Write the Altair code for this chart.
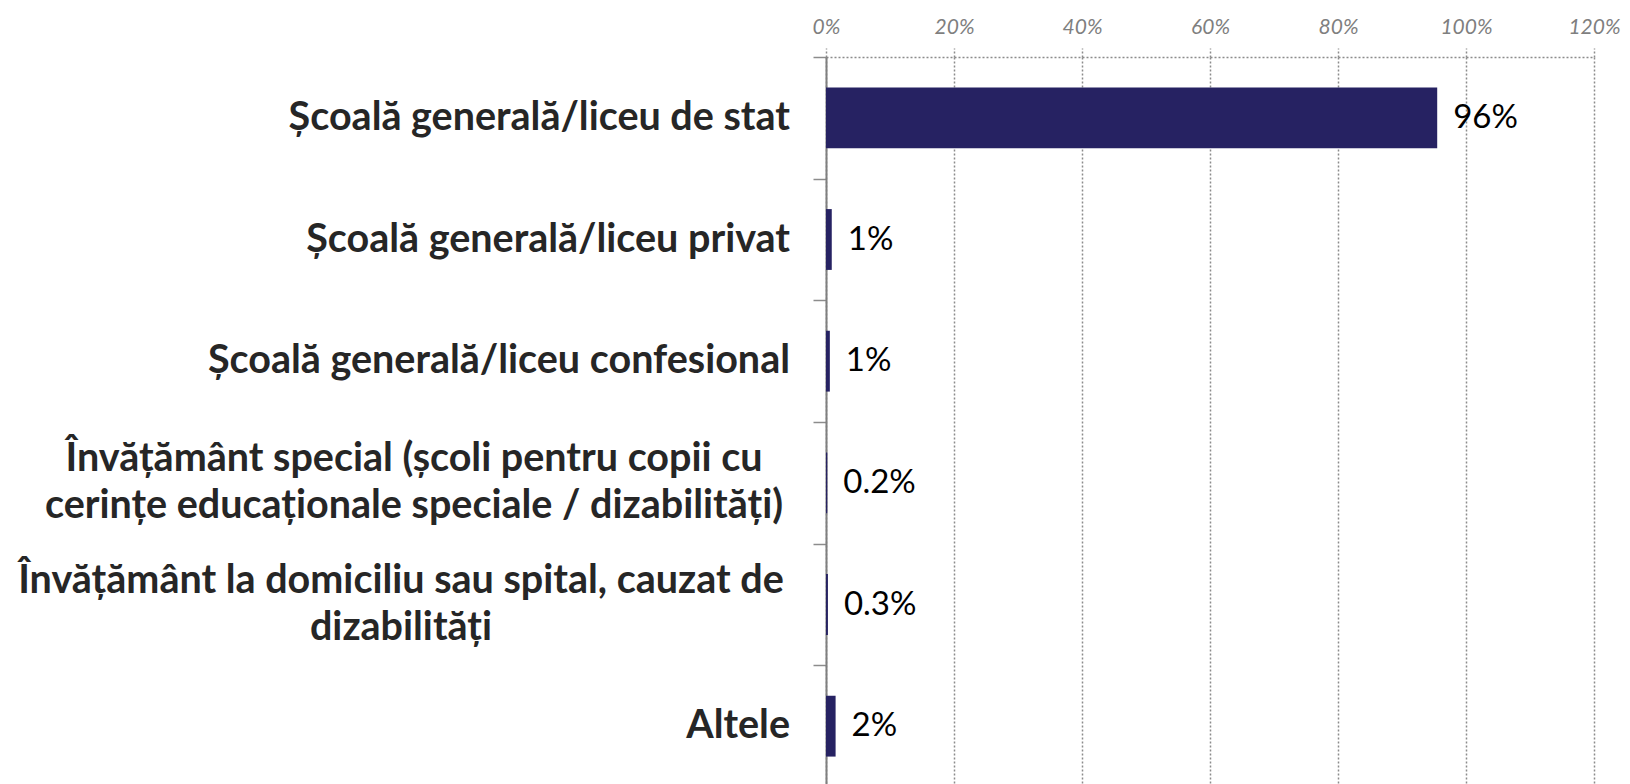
import altair as alt
import pandas as pd

categories = [
    "Școală generală/liceu de stat",
    "Școală generală/liceu privat",
    "Școală generală/liceu confesional",
    "Învățământ special (școli pentru copii cu\ncerințe educaționale speciale / dizabilități)",
    "Învățământ la domiciliu sau spital, cauzat de\ndizabilități",
    "Altele",
]
values = [95.5, 0.9, 0.6, 0.2, 0.3, 1.5]
value_labels = ["96%", "1%", "1%", "0.2%", "0.3%", "2%"]
x_ticks = [0, 20, 40, 60, 80, 100, 120]

df = pd.DataFrame({"cat": categories, "val": values, "lab": value_labels})

LABEL_FONT = "Lato"
LABEL_SIZE = 39.5
LINE_H = 47

y_scale = alt.Scale(domain=categories, paddingInner=0, paddingOuter=0)

y_enc = alt.Y(
    "cat:N",
    sort=categories,
    title=None,
    scale=y_scale,
    axis=alt.Axis(
        labels=False,
        tickBand="extent",
        tickSize=13,
        tickColor="#8c8c8c",
        tickWidth=1.5,
        domainColor="#7f7f7f",
        domainWidth=2,
        grid=False,
    ),
)

x_enc = alt.X(
    "val:Q",
    title=None,
    scale=alt.Scale(domain=[0, 120], nice=False),
    axis=alt.Axis(
        orient="top",
        values=x_ticks,
        labelExpr="datum.value + '%'",
        labelFont="Lato",
        labelFontStyle="italic",
        labelFontSize=21,
        labelColor="#7f7f7f",
        labelPadding=11,
        labelFlush=False,
        tickSize=9,
        tickDash=[2, 2],
        tickColor="#8c8c8c",
        tickWidth=1.5,
        domainDash=[2, 2],
        domainColor="#8c8c8c",
        domainWidth=1.5,
        grid=True,
        gridDash=[2, 2],
        gridColor="#8c8c8c",
        gridWidth=1.5,
    ),
)

base = alt.Chart(df)

bars = base.mark_bar(color="#262262", height={"band": 0.5}).encode(x=x_enc, y=y_enc)

texts = base.mark_text(
    align="left", baseline="middle", dx=16, font="Lato", fontSize=33, color="black"
).encode(
    x=alt.X("val:Q"),
    y=alt.Y("cat:N", sort=categories),
    text="lab:N",
)

label_style = dict(
    baseline="middle",
    font=LABEL_FONT,
    fontSize=LABEL_SIZE,
    fontWeight="bold",
    color="#262626",
    lineBreak="\n",
    lineHeight=LINE_H,
)

single_labels = base.transform_filter(
    "indexof(datum.cat, '\\n') < 0"
).mark_text(align="right", dx=-36, **label_style).encode(
    x=alt.value(0), y=alt.Y("cat:N", sort=categories), text="cat:N"
)

special_label = base.transform_filter(
    "indexof(datum.cat, 'pentru') >= 0"
).mark_text(align="center", dx=-412, dy=-LINE_H / 2, **label_style).encode(
    x=alt.value(0), y=alt.Y("cat:N", sort=categories), text="cat:N"
)

home_label = base.transform_filter(
    "indexof(datum.cat, 'domiciliu') >= 0"
).mark_text(align="center", dx=-425, dy=-LINE_H / 2, **label_style).encode(
    x=alt.value(0), y=alt.Y("cat:N", sort=categories), text="cat:N"
)

chart = (
    alt.layer(bars, texts, single_labels, special_label, home_label)
    .properties(
        width=768,
        height=730,
        autosize=alt.AutoSizeParams(type="none"),
        padding={"left": 818, "top": 49, "right": 28, "bottom": 0},
    )
    .configure_view(stroke=None)
)

chart.save("out.html", embed_options={"renderer": "svg", "actions": False})
